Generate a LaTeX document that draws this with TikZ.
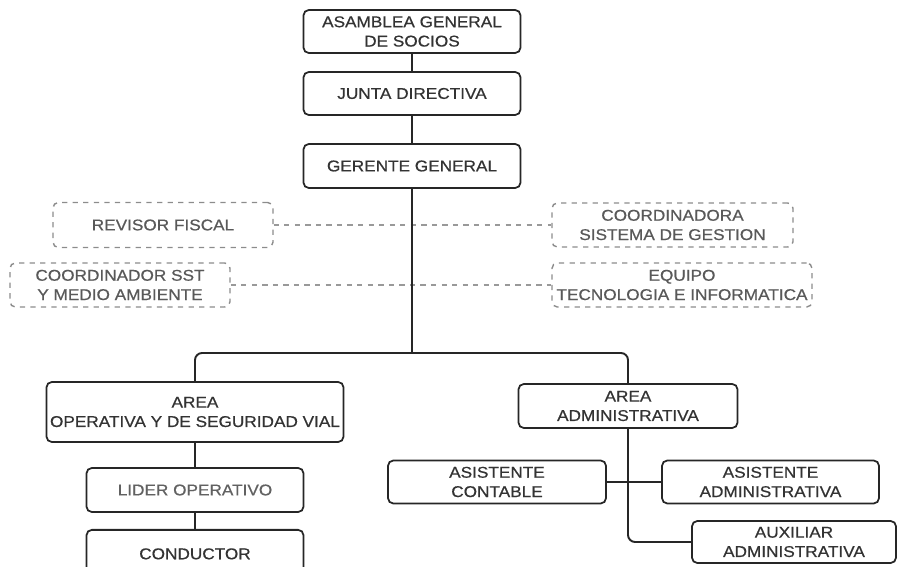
\documentclass[tikz,border=0pt]{standalone}
\usepackage{fontspec}
\setmainfont{Liberation Sans}[FakeStretch=1.1, FakeBold=0.6]
\usetikzlibrary{positioning}

\tikzset{
  unit/.style={draw=black!85, line width=1pt, rounded corners=3pt, align=center,
    text=black!80, font=\fontsize{8.9}{11}\selectfont, inner sep=2pt},
  staff/.style={unit, draw=gray!90, dashed, line width=0.8pt, text=black!65},
  link/.style={black!85, line width=1.1pt},
  dotted link/.style={gray!80, dashed, line width=0.7pt}
}

\begin{document}
\begin{tikzpicture}[x=0.02cm, y=-0.02cm]
\clip (0,0) rectangle (900,567);

% direccion
\node[unit, minimum width=4.34cm, minimum height=0.86cm] (asamblea) at (412,31.5) {ASAMBLEA GENERAL\\DE SOCIOS};
\node[unit, minimum width=4.34cm, minimum height=0.86cm] (junta) at (412,93.5) {JUNTA DIRECTIVA};
\node[unit, minimum width=4.34cm, minimum height=0.88cm] (gerente) at (412,166) {GERENTE GENERAL};

% staff
\node[staff, minimum width=4.4cm, minimum height=0.9cm] (revisor) at (163,225) {REVISOR FISCAL};
\node[staff, minimum width=4.4cm, minimum height=0.88cm] (sst) at (120,285) {COORDINADOR SST\\Y MEDIO AMBIENTE};
\node[staff, minimum width=4.82cm, minimum height=0.88cm] (gestion) at (672.5,225) {COORDINADORA\\SISTEMA DE GESTION};
\node[staff, minimum width=5.2cm, minimum height=0.88cm] (tecno) at (682,285) {EQUIPO\\TECNOLOGIA E INFORMATICA};

% areas
\node[unit, minimum width=5.94cm, minimum height=1.2cm] (operativa) at (195,412) {AREA\\OPERATIVA Y DE SEGURIDAD VIAL};
\node[unit, minimum width=4.38cm, minimum height=0.88cm] (admin) at (628,406) {AREA\\ADMINISTRATIVA};

\node[unit, minimum width=4.34cm, minimum height=0.88cm, text=black!62] (lider) at (195,490) {LIDER OPERATIVO};
\node[unit, minimum width=4.34cm, minimum height=0.96cm, anchor=north] (conductor) at (195,529) {CONDUCTOR};

\node[unit, minimum width=4.36cm, minimum height=0.86cm] (contable) at (497,482) {ASISTENTE\\CONTABLE};
\node[unit, minimum width=4.34cm, minimum height=0.86cm] (asistente) at (770.5,482) {ASISTENTE\\ADMINISTRATIVA};
\node[unit, minimum width=4.08cm, minimum height=0.84cm] (auxiliar) at (794,542) {AUXILIAR\\ADMINISTRATIVA};

\coordinate (bar) at (412,353);

% lineas
\draw[link] (asamblea) -- (junta);
\draw[link] (junta) -- (gerente);
\draw[dotted link] (revisor.east) -- (gestion.west);
\draw[dotted link] (sst.east) -- (tecno.west);
\draw[link] (gerente) -- (bar);
\draw[link, rounded corners=4pt] (operativa.north) |- (bar) -| (admin.north);
\draw[link] (operativa) -- (lider);
\draw[link] (lider) -- (conductor);
\draw[link] (contable) -- (asistente);
\draw[link, rounded corners=4pt] (admin.south) |- (auxiliar.west);
\end{tikzpicture}
\end{document}
